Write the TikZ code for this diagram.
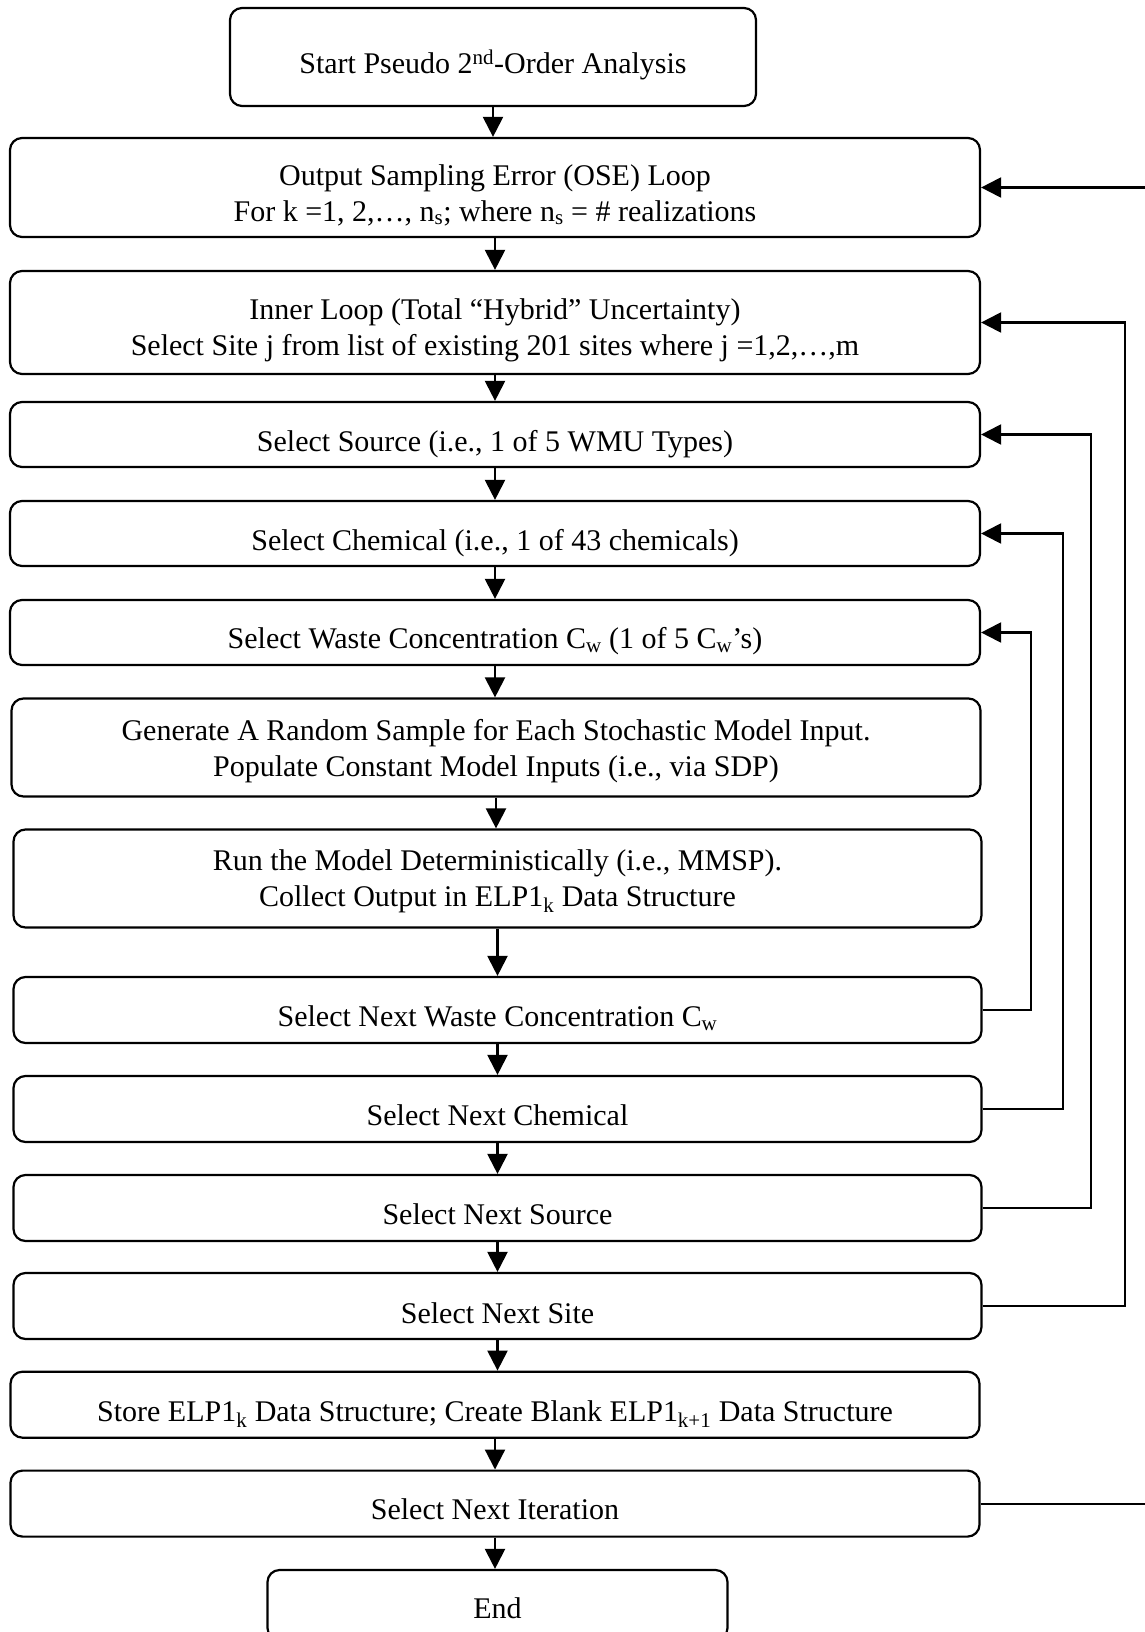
\documentclass[tikz,border=0pt]{standalone}
\usepackage{fontspec}
\setmainfont{Liberation Serif}
\usetikzlibrary{arrows.meta,calc}

\begin{document}
\begin{tikzpicture}[x=1pt,y=-1pt,
  box/.style={draw, line width=2.2pt, rounded corners=12pt, minimum width=970pt,
              minimum height=65pt, inner sep=0pt},
  txt/.style={inner sep=0pt, align=center, font=\fontsize{30}{36}\selectfont},
  flow/.style={line width=2.2pt, -{Triangle[length=20pt,width=20pt]}}]
\useasboundingbox (0,0) rectangle (1144,1632);

% process boxes
\node[box, minimum width=526pt, minimum height=98pt] (start) at (493,57) {};
\node[box, minimum height=99pt]  (ose)     at (495,187.5) {};
\node[box, minimum height=103pt] (inner)   at (495,322.5) {};
\node[box]                       (source)  at (495,434.5) {};
\node[box]                       (chem)    at (495,533.5) {};
\node[box]                       (waste)   at (495,632.5) {};
\node[box, minimum width=969pt, minimum height=98pt] (gen) at (496,747.5) {};
\node[box, minimum width=968pt, minimum height=98pt] (run) at (497.5,878.5) {};
\node[box, minimum width=968pt, minimum height=66pt] (nwaste)  at (497.5,1010) {};
\node[box, minimum width=968pt, minimum height=66pt] (nchem)   at (497.5,1109) {};
\node[box, minimum width=968pt, minimum height=66pt] (nsource) at (497.5,1208) {};
\node[box, minimum width=968pt, minimum height=66pt] (nsite)   at (497.5,1306) {};
\node[box, minimum width=969pt, minimum height=66pt] (store)   at (495,1404.7) {};
\node[box, minimum width=969pt, minimum height=66pt] (iter)    at (495,1503.6) {};
\node[box, minimum width=460pt, minimum height=70pt] (finish)  at (497.5,1605) {};

% box texts
\node[txt] (start-t)   at ($(start.center)+(0,8)$) {Start Pseudo 2\textsuperscript{nd}-Order Analysis};
\node[txt] (ose-t)     at ($(ose.center)+(0,7.5)$) {Output Sampling Error (OSE) Loop\\For k =1, 2,…, n\textsubscript{s}; where n\textsubscript{s} = \# realizations};
\node[txt] (inner-t)   at ($(inner.center)+(0,8)$) {Inner Loop (Total “Hybrid” Uncertainty)\\Select Site j from list of existing 201 sites where j =1,2,…,m};
\node[txt] (source-t)  at ($(source.center)+(0,10)$) {Select Source (i.e., 1 of 5 WMU Types)};
\node[txt] (chem-t)    at ($(chem.center)+(0,10)$) {Select Chemical (i.e., 1 of 43 chemicals)};
\node[txt] (waste-t)   at ($(waste.center)+(0,9)$) {Select Waste Concentration C\textsubscript{w} (1 of 5 C\textsubscript{w}’s)};
\node[txt] (gen-t)     at ($(gen.center)+(0,4)$) {Generate A Random Sample for Each Stochastic Model Input.\\Populate Constant Model Inputs (i.e., via SDP)};
\node[txt] (run-t)     at ($(run.center)+(0,2.5)$) {Run the Model Deterministically (i.e., MMSP).\\Collect Output in ELP1\textsubscript{k} Data Structure};
\node[txt] (nwaste-t)  at ($(nwaste.center)+(0,8)$) {Select Next Waste Concentration C\textsubscript{w}};
\node[txt] (nchem-t)   at ($(nchem.center)+(0,6)$) {Select Next Chemical};
\node[txt] (nsource-t) at ($(nsource.center)+(0,6)$) {Select Next Source};
\node[txt] (nsite-t)   at ($(nsite.center)+(0,7)$) {Select Next Site};
\node[txt] (store-t)   at ($(store.center)+(0,9)$) {Store ELP1\textsubscript{k} Data Structure; Create Blank ELP1\textsubscript{k+1} Data Structure};
\node[txt] (iter-t)    at ($(iter.center)+(0,6)$) {Select Next Iteration};
\node[txt] (finish-t)  at ($(finish.north)+(0,39)$) {End};

% downward flow
\foreach \a/\b in {start/ose, ose/inner, inner/source, source/chem, chem/waste,
                   waste/gen, gen/run, run/nwaste, nwaste/nchem, nchem/nsource,
                   nsource/nsite, nsite/store, store/iter, iter/finish}
  \draw[flow] (\a.south) -- (\a.south |- \b.north);

% loop-back connectors on the right
\coordinate (xw) at (1031,0);
\coordinate (xc) at (1063,0);
\coordinate (xs) at (1091,0);
\coordinate (xt) at (1125,0);
\coordinate (xo) at (1175,0);
\draw[flow] (nwaste.east)  -- (nwaste.east -| xw)  |- (waste.east);
\draw[flow] (nchem.east)   -- (nchem.east -| xc)   |- (chem.east);
\draw[flow] (nsource.east) -- (nsource.east -| xs) |- (source.east);
\draw[flow] (nsite.east)   -- (nsite.east -| xt)   |- (inner.east);
\draw[flow] (iter.east)    -- (iter.east -| xo)    |- (ose.east);
\end{tikzpicture}
\end{document}
